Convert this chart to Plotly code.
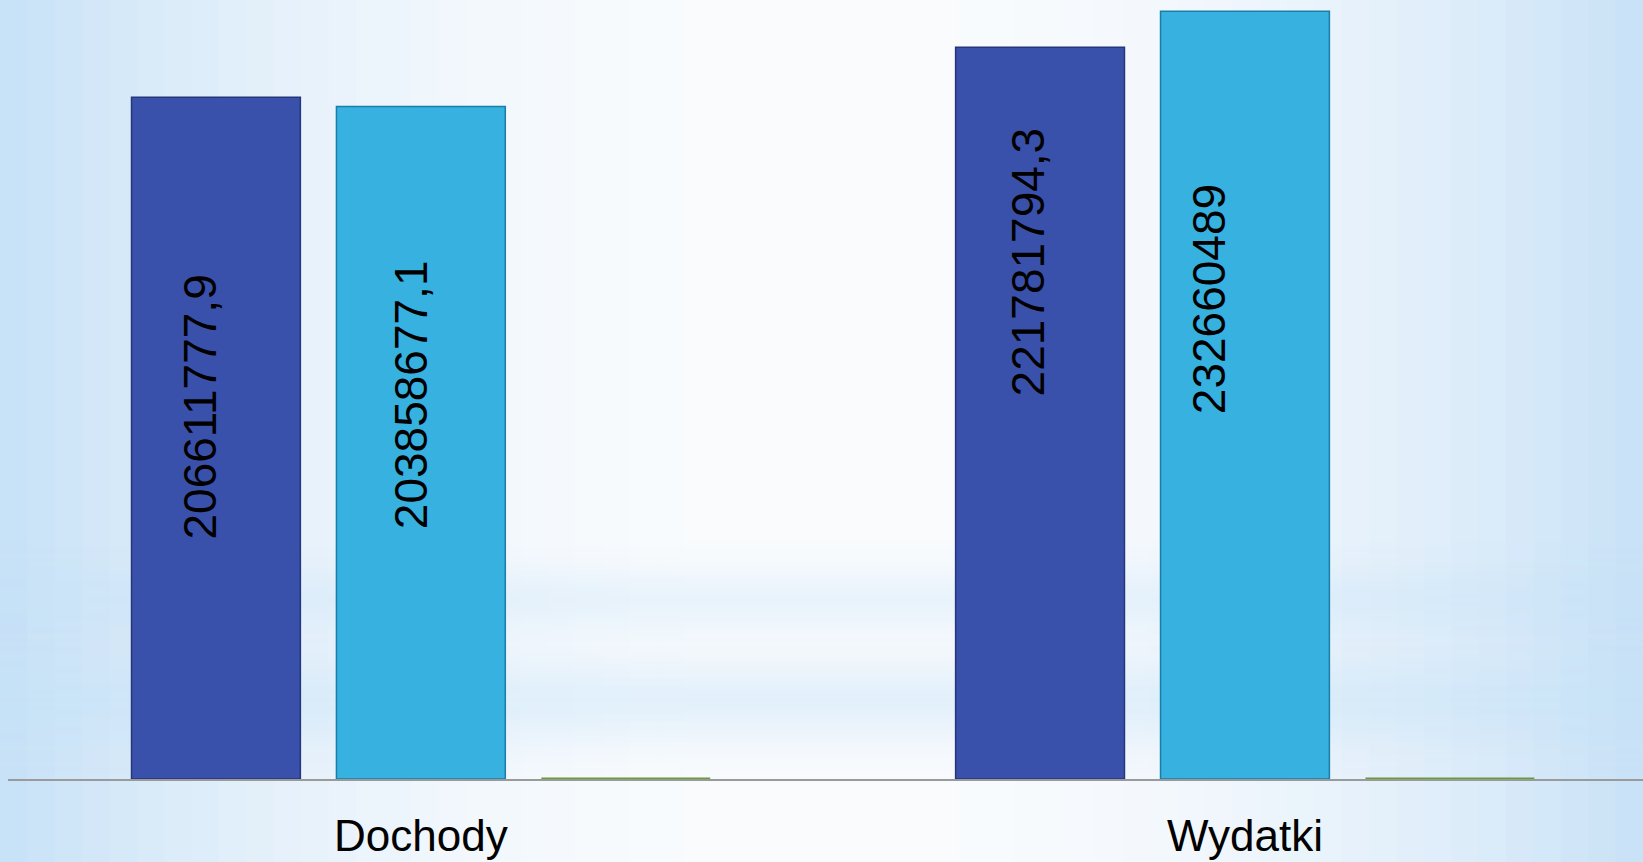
import math
import plotly.graph_objects as go

categories = ["Dochody", "Wydatki"]
series_names = ["Seria 1", "Seria 2", "Seria 3"]
series_a = [206611777.9, 221781794.3]
series_b = [203858677.1, 232660489.0]
series_c = [0.0, 0.0]

# style: label placement (fraction of bar height for label centre, pixel shift)
label_frac = [[0.546, 0.707], [0.572, 0.625]]
label_dx = [[-16, -12], [-10, -36]]

def fmt(v):
    if abs(v - round(v)) < 1e-9:
        return str(int(round(v)))
    return f"{v:.1f}".replace(".", ",")

W, H = 1643, 862
ML, MR, MT, MB = 8, 0, 0, 83
pw, ph = W - ML - MR, H - MT - MB

fig = go.Figure()
colors = ["#3a51ab", "#36b1e0", "#6b9b37"]
lines = ["#26367a", "#1a7ea8", "#6b9b37"]
for name, vals, c, lc in zip(series_names, [series_a, series_b, series_c], colors, lines):
    fig.add_trace(go.Bar(
        x=categories, y=vals, name=name,
        marker=dict(color=c, line=dict(color=lc, width=1.5 if c != colors[2] else 3)),
        hoverinfo="x+y",
    ))

# background gradient built from strips
shapes = []
N = 60
x0p = -ML / pw
for i in range(N):
    a = x0p + (1 - x0p) * i / N
    b = x0p + (1 - x0p) * (i + 1) / N
    mid = (a + b) / 2
    t = min(1.0, abs(mid - 0.5) / 0.5)
    t = t ** 2.2
    c0 = (250, 252, 254)
    c1 = (200, 226, 247)
    col = tuple(int(c0[k] + (c1[k] - c0[k]) * t) for k in range(3))
    shapes.append(dict(type="rect", xref="paper", yref="paper", x0=a, x1=b + 0.001,
                       y0=-MB / ph - 0.01, y1=1, fillcolor="rgb(%d,%d,%d)" % col,
                       line=dict(width=0), layer="below"))
# soft horizontal bands
for (yc, sig, amp) in [(600, 22, 0.30), (700, 30, 0.40)]:
    step = 4
    for yy in range(yc - 3 * sig, yc + 3 * sig, step):
        op = amp * math.exp(-((yy + step / 2 - yc) ** 2) / (2 * sig * sig))
        shapes.append(dict(type="rect", xref="paper", yref="paper", x0=x0p, x1=1,
                           y0=1 - (yy + step) / ph, y1=1 - yy / ph,
                           fillcolor="rgba(196,226,248,%.3f)" % op,
                           line=dict(width=0), layer="below"))

annotations = []
slot = 0.249
for si, vals in enumerate([series_a, series_b]):
    for ci, v in enumerate(vals):
        annotations.append(dict(
            x=ci + (si - 1) * slot, y=v * label_frac[si][ci], xref="x", yref="y",
            text=fmt(v), textangle=-90, showarrow=False, xshift=label_dx[si][ci],
            font=dict(family="Liberation Sans", size=46, color="#000000"),
        ))

fig.update_layout(
    width=W, height=H,
    margin=dict(l=ML, r=MR, t=MT, b=MB),
    paper_bgcolor="#eef6fc", plot_bgcolor="rgba(0,0,0,0)",
    barmode="group", bargap=0.254, bargroupgap=0.176,
    showlegend=False,
    shapes=shapes, annotations=annotations,
    xaxis=dict(range=[-0.501, 1.483], showline=True, linecolor="#9a9a9a", linewidth=2,
               showgrid=False, ticks="", ticklabelstandoff=17, automargin=False,
               tickfont=dict(family="Liberation Sans", size=44, color="#000000"), fixedrange=True),
    yaxis=dict(range=[0, 236.1e6], visible=False, showgrid=False, zeroline=False,
               fixedrange=True, automargin=False),
)

post = (
    "document.documentElement.style.margin='0';"
    "document.documentElement.style.overflow='hidden';"
    "document.body.style.margin='0';document.body.style.overflow='hidden';"
    "var d=document.getElementById('{plot_id}');"
    "d.style.position='fixed';d.style.top='0';d.style.left='0';"
)
fig.write_html("out.html", config={"displayModeBar": False}, post_script=post)
